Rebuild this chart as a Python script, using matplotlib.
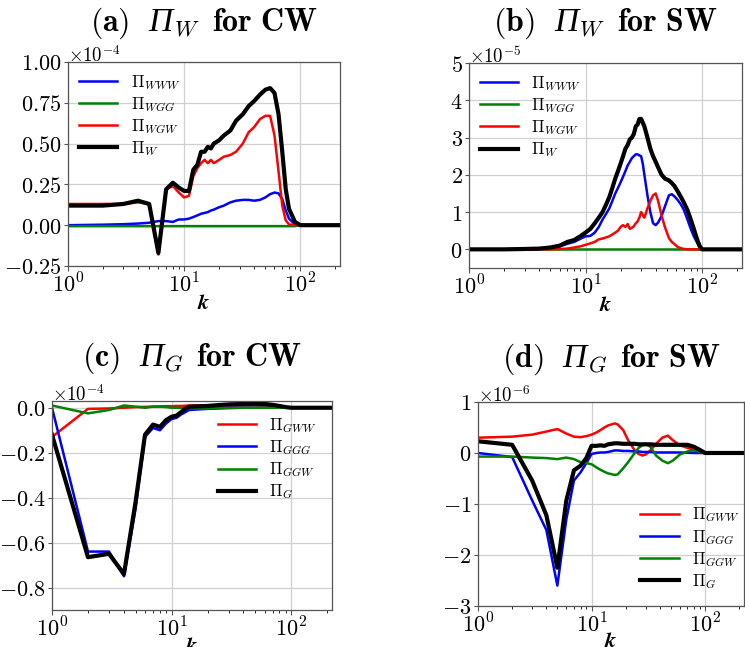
import numpy as np
import matplotlib
matplotlib.use("Agg")
import matplotlib.pyplot as plt
from matplotlib.ticker import FuncFormatter, FixedLocator, LogLocator, NullFormatter
from matplotlib.offsetbox import TextArea, HPacker, AnchoredOffsetbox

plt.rcParams['mathtext.fontset'] = 'cm'
plt.rcParams['font.family'] = 'DejaVu Serif'

# ---- (a) Pi_W for CW, units of 1e-4 ----
ka = [1, 2, 3, 4, 5, 6, 7, 8, 9, 10, 11, 12, 13, 14, 15, 16, 17, 18, 20, 22, 25,
      28, 32, 36, 40, 45, 50, 55, 60, 65, 70, 75, 80, 90, 100, 220]
a_www = [0.0, 0.003, 0.006, 0.01, 0.015, 0.025, 0.025, 0.02, 0.035, 0.035, 0.04,
         0.05, 0.06, 0.07, 0.075, 0.08, 0.09, 0.095, 0.11, 0.12, 0.14, 0.15, 0.155,
         0.155, 0.15, 0.155, 0.17, 0.19, 0.20, 0.195, 0.16, 0.09, 0.04, 0.005, 0.0, 0.0]
a_wgg = [-0.006] * 34 + [0.0, 0.0]
a_wgw = [0.13, 0.13, 0.13, 0.14, 0.13, -0.18, 0.22, 0.24, 0.20, 0.17, 0.18, 0.30,
         0.35, 0.38, 0.40, 0.38, 0.40, 0.38, 0.40, 0.42, 0.43, 0.45, 0.50, 0.57,
         0.60, 0.65, 0.67, 0.67, 0.55, 0.33, 0.12, 0.03, 0.005, 0.0, 0.0, 0.0]
a_w = [0.12, 0.12, 0.13, 0.15, 0.13, -0.17, 0.22, 0.26, 0.23, 0.21, 0.21, 0.34,
       0.37, 0.45, 0.45, 0.48, 0.47, 0.50, 0.52, 0.55, 0.58, 0.64, 0.68, 0.73,
       0.76, 0.80, 0.83, 0.84, 0.81, 0.68, 0.45, 0.22, 0.10, 0.02, 0.0, 0.0]

# ---- (b) Pi_W for SW, units of 1e-5 ----
kb = [1, 2, 3, 4, 5, 6, 7, 8, 9, 10, 11, 12, 13, 14, 15, 16, 17, 18, 19, 20, 21,
      22, 23, 24, 25, 26, 27, 28, 29, 30, 31, 32, 34, 36, 38, 40, 42, 45, 48, 52,
      55, 58, 62, 66, 70, 75, 80, 85, 90, 95, 100, 220]
b_www = [0.0, 0.0, 0.01, 0.02, 0.04, 0.08, 0.15, 0.2, 0.28, 0.35, 0.36, 0.45,
         0.6, 0.8, 0.95, 1.1, 1.3, 1.5, 1.65, 1.8, 1.95, 2.1, 2.25, 2.35, 2.45,
         2.5, 2.55, 2.55, 2.52, 2.5, 2.3, 2.0, 1.45, 1.0, 0.7, 0.65, 0.72, 0.9,
         1.15, 1.45, 1.48, 1.42, 1.32, 1.2, 1.05, 0.8, 0.55, 0.35, 0.2, 0.06, 0.0, 0.0]
b_wgg = [0.0] * 52
b_wgw = [0.0, 0.0, 0.0, 0.0, 0.0, 0.01, 0.02, 0.05, 0.08, 0.12, 0.16, 0.2, 0.27,
         0.29, 0.32, 0.35, 0.4, 0.45, 0.5, 0.6, 0.65, 0.6, 0.68, 0.55, 0.58, 0.62,
         0.7, 0.75, 0.85, 1.0, 0.92, 0.85, 1.1, 1.3, 1.45, 1.5, 1.3, 0.9, 0.6, 0.3,
         0.2, 0.14, 0.06, 0.03, 0.01, 0.0, 0.0, 0.0, 0.0, 0.0, 0.0, 0.0]
b_w = [0.0, 0.0, 0.01, 0.02, 0.05, 0.1, 0.2, 0.25, 0.35, 0.45, 0.55, 0.7, 0.85,
       1.0, 1.2, 1.4, 1.65, 1.9, 2.1, 2.3, 2.5, 2.7, 2.8, 2.95, 3.0, 3.1, 3.3,
       3.35, 3.5, 3.5, 3.4, 3.3, 3.0, 2.7, 2.5, 2.35, 2.2, 2.0, 1.9, 1.85, 1.78,
       1.7, 1.55, 1.4, 1.25, 1.05, 0.8, 0.55, 0.3, 0.1, 0.0, 0.0]

# ---- (c) Pi_G for CW, units of 1e-4 ----
kc = [1, 2, 3, 4, 5, 6, 7, 8, 9, 10, 11, 12, 13, 14, 16, 20, 25, 30, 40, 50, 60,
      70, 80, 90, 100, 220]
c_gww = [-0.13, -0.005, -0.003, 0.0, 0.003, 0.004, 0.005, 0.006, 0.007, 0.007,
         0.008, 0.008, 0.009, 0.01, 0.01, 0.01, 0.01, 0.01, 0.01, 0.01, 0.009,
         0.007, 0.005, 0.002, 0.0, 0.0]
c_ggg = [0.0, -0.64, -0.64, -0.75, -0.45, -0.13, -0.09, -0.10, -0.07, -0.05,
         -0.045, -0.03, -0.02, -0.01, -0.008, -0.005, -0.003, 0.0, 0.0, 0.0, 0.0,
         0.0, 0.0, 0.0, 0.0, 0.0]
c_ggw = [0.01, -0.025, -0.01, 0.01, 0.005, 0.0, 0.005, 0.005, 0.003, 0.0, 0.0,
         -0.001, -0.002, -0.002, -0.003, -0.003, -0.002, -0.002, 0.0, 0.0, 0.0,
         0.0, 0.0, 0.0, 0.0, 0.0]
c_g = [-0.12, -0.665, -0.65, -0.74, -0.42, -0.12, -0.075, -0.085, -0.055, -0.04,
       -0.035, -0.02, -0.005, 0.005, 0.006, 0.008, 0.012, 0.015, 0.017, 0.018,
       0.017, 0.013, 0.008, 0.003, 0.0, 0.0]

# ---- (d) Pi_G for SW, units of 1e-6 ----
kd = [1, 2, 3, 4, 5, 6, 7, 8, 9, 10, 11, 12, 13, 14, 16, 17, 19, 21, 24, 26, 28,
      30, 33, 37, 42, 47, 52, 60, 70, 80, 90, 100, 220]
d_gww = [0.3, 0.32, 0.36, 0.42, 0.47, 0.38, 0.32, 0.31, 0.33, 0.36, 0.4, 0.45,
         0.5, 0.54, 0.58, 0.56, 0.45, 0.25, 0.05, -0.02, -0.05, -0.03, 0.05, 0.18,
         0.3, 0.34, 0.25, 0.15, 0.1, 0.06, 0.02, 0.0, 0.0]
d_ggg = [0.0, -0.08, -0.93, -1.51, -2.6, -1.3, -0.54, -0.38, -0.2, -0.02, 0.0,
         0.01, 0.01, 0.02, 0.05, 0.05, 0.04, 0.04, 0.03, 0.03, 0.02, 0.02, 0.02,
         0.01, 0.01, 0.01, 0.01, 0.01, 0.005, 0.0, 0.0, 0.0, 0.0]
d_ggw = [-0.07, -0.07, -0.09, -0.1, -0.12, -0.09, -0.12, -0.18, -0.2, -0.22,
         -0.28, -0.33, -0.37, -0.4, -0.43, -0.42, -0.3, -0.18, 0.0, 0.1, 0.15,
         0.18, 0.12, -0.05, -0.15, -0.2, -0.15, -0.03, 0.03, 0.05, 0.02, 0.0, 0.0]
d_g = [0.23, 0.16, -0.54, -1.22, -2.25, -0.93, -0.34, -0.25, -0.1, 0.14, 0.14,
       0.15, 0.14, 0.17, 0.19, 0.19, 0.18, 0.18, 0.18, 0.17, 0.17, 0.17, 0.17,
       0.16, 0.16, 0.16, 0.16, 0.16, 0.16, 0.12, 0.06, 0.0, 0.0]


def bold_num(fmt):
    def f(v, pos):
        s = fmt.format(v)
        if s.startswith('-'):
            return r'$-\mathbf{' + s[1:] + '}$'
        return r'$\mathbf{' + s + '}$'
    return FuncFormatter(f)


def log_label(v, pos):
    e = int(round(np.log10(v)))
    return r'$\mathbf{10^{%d}}$' % e


def panel_title(ax, tag, sub, what, rise):
    # bold tag, italic capital Pi with a subscript, bold text
    fs = 23
    t_tag = TextArea(r'$\mathbf{(%s)}$' % tag, textprops=dict(fontsize=fs))
    t_pi = TextArea('Π', textprops=dict(fontsize=fs + 1, family='Liberation Serif',
                                        style='italic'))
    t_sub = TextArea(r'$_{%s}$' % sub, textprops=dict(fontsize=fs))
    t_for = TextArea(r'$\mathbf{for\ %s}$' % what, textprops=dict(fontsize=fs))
    pi_box = HPacker(children=[t_pi, t_sub], align='baseline', pad=0, sep=0)
    rest = HPacker(children=[pi_box, t_for], align='baseline', pad=0, sep=9)
    box = HPacker(children=[t_tag, rest], align='baseline', pad=0, sep=14)
    h = ax.get_position().height * fig.get_figheight() * fig.dpi
    ab = AnchoredOffsetbox(loc='lower center', child=box, pad=0, borderpad=0,
                           frameon=False, bbox_to_anchor=(0.5, 1 + rise / h),
                           bbox_transform=ax.transAxes)
    fig.add_artist(ab)


def style_axes(ax, ylim, yticks, yfmt, scale_txt, xpad=-4):
    ax.set_xscale('log')
    ax.set_xlim(1, 220)
    ax.set_ylim(*ylim)
    ax.yaxis.set_major_locator(FixedLocator(yticks))
    ax.yaxis.set_major_formatter(bold_num(yfmt))
    ax.xaxis.set_major_locator(LogLocator(base=10, numticks=5))
    ax.xaxis.set_major_formatter(FuncFormatter(log_label))
    ax.xaxis.set_minor_formatter(NullFormatter())
    ax.grid(True, which='major', color='#d0d0d0', lw=0.9)
    ax.set_axisbelow(True)
    for s in ax.spines.values():
        s.set_color('#555555')
        s.set_linewidth(0.9)
    ax.tick_params(labelsize=16, color='#555555', width=0.8, pad=2)
    ax.tick_params(axis='y', length=3, pad=1.5)
    ax.tick_params(which='minor', length=2.5)
    ax.set_xlabel(r'$\boldsymbol{k}$', fontsize=16, labelpad=xpad)
    ax.text(0, 1.0, scale_txt, transform=ax.transAxes, fontsize=13.5,
            ha='left', va='baseline')


def add_legend(ax, **kw):
    ax.legend(frameon=False, fontsize=12, labelspacing=0.2, handlelength=2.3,
              **kw)


fig = plt.figure(figsize=(7.45, 6.47), dpi=100)
ax_a = fig.add_axes([0.0913, 0.5889, 0.3651, 0.3153])
ax_b = fig.add_axes([0.6295, 0.5858, 0.3664, 0.3168])
ax_c = fig.add_axes([0.0698, 0.0572, 0.3758, 0.3230])
ax_d = fig.add_axes([0.6416, 0.0634, 0.3570, 0.3153])

lw_c, lw_k = 1.8, 3.0

ax_a.plot(ka, a_www, color='blue', lw=lw_c, label=r'$\Pi_{WWW}$')
ax_a.plot(ka, a_wgg, color='green', lw=lw_c, label=r'$\Pi_{WGG}$')
ax_a.plot(ka, a_wgw, color='red', lw=lw_c, label=r'$\Pi_{WGW}$')
ax_a.plot(ka, a_w, color='black', lw=lw_k, label=r'$\Pi_{W}$')
style_axes(ax_a, (-0.25, 1.0), [-0.25, 0, 0.25, 0.5, 0.75, 1.0], '{:.2f}',
           r'$\times10^{-4}$')
panel_title(ax_a, 'a', 'W', 'CW', 21)
add_legend(ax_a, loc='upper left', borderaxespad=0.25)

ax_b.plot(kb, b_www, color='blue', lw=lw_c, label=r'$\Pi_{WWW}$')
ax_b.plot(kb, b_wgg, color='green', lw=lw_c, label=r'$\Pi_{WGG}$')
ax_b.plot(kb, b_wgw, color='red', lw=lw_c, label=r'$\Pi_{WGW}$')
ax_b.plot(kb, b_w, color='black', lw=lw_k, label=r'$\Pi_{W}$')
style_axes(ax_b, (-0.5, 5.0), [0, 1, 2, 3, 4, 5], '{:.0f}', r'$\times10^{-5}$')
panel_title(ax_b, 'b', 'W', 'SW', 22)
add_legend(ax_b, loc='upper left', borderaxespad=0.25)

ax_c.plot(kc, c_gww, color='red', lw=lw_c, label=r'$\Pi_{GWW}$')
ax_c.plot(kc, c_ggg, color='blue', lw=lw_c, label=r'$\Pi_{GGG}$')
ax_c.plot(kc, c_ggw, color='green', lw=lw_c, label=r'$\Pi_{GGW}$')
ax_c.plot(kc, c_g, color='black', lw=lw_k, label=r'$\Pi_{G}$')
style_axes(ax_c, (-0.9, 0.03), [-0.8, -0.6, -0.4, -0.2, 0.0], '{:.1f}',
           r'$\times10^{-4}$', xpad=-5)
panel_title(ax_c, 'c', 'G', 'CW', 25)
add_legend(ax_c, loc='upper right', bbox_to_anchor=(1.0, 1.0))

ax_d.plot(kd, d_gww, color='red', lw=lw_c, label=r'$\Pi_{GWW}$')
ax_d.plot(kd, d_ggg, color='blue', lw=lw_c, label=r'$\Pi_{GGG}$')
ax_d.plot(kd, d_ggw, color='green', lw=lw_c, label=r'$\Pi_{GGW}$')
ax_d.plot(kd, d_g, color='black', lw=lw_k, label=r'$\Pi_{G}$')
style_axes(ax_d, (-3.0, 1.0), [-3, -2, -1, 0, 1], '{:.0f}', r'$\times10^{-6}$',
           xpad=-6)
panel_title(ax_d, 'd', 'G', 'SW', 25)
add_legend(ax_d, loc='lower right', bbox_to_anchor=(1.04, 0.0))

fig.savefig('out.png', dpi=100)
